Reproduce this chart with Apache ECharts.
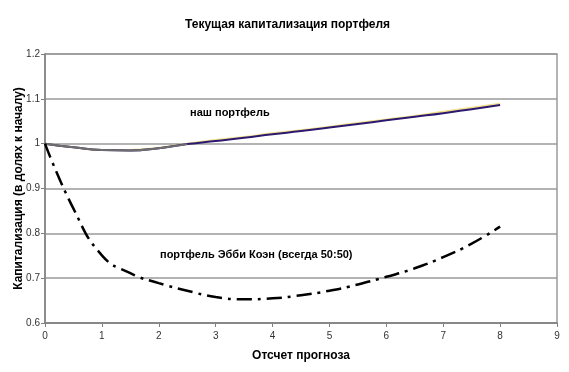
<!DOCTYPE html>
<html>
<head>
<meta charset="utf-8">
<script src="https://cdn.jsdelivr.net/npm/echarts@6/dist/echarts.min.js"></script>
<style>html,body{margin:0;padding:0;background:#fff}#c{width:569px;height:372px}</style>
</head>
<body>
<div id="c"></div>
<script>
var titleText = 'Текущая капитализация портфеля';
var xName = 'Отсчет прогноза';
var yName = 'Капитализация (в долях к началу)';
var ourLabel = 'наш портфель';
var abbyLabel = 'портфель Эбби Коэн (всегда 50:50)';

var xs = [0, 0.5, 1, 1.5, 2, 2.5, 3, 3.5, 4, 4.5, 5, 5.5, 6, 6.5, 7, 7.5, 8];
var ourValues = [1.0, 0.992, 0.986, 0.985, 0.99, 0.999, 1.006, 1.013, 1.021, 1.028, 1.036, 1.044, 1.052, 1.060, 1.068, 1.077, 1.086];
var ourAltValues = [1.0, 0.992, 0.986, 0.986, 0.991, 1.0, 1.008, 1.015, 1.023, 1.030, 1.038, 1.046, 1.054, 1.062, 1.071, 1.080, 1.089];
var abbyValues = [1.0, 0.855, 0.751, 0.711, 0.689, 0.672, 0.658, 0.653, 0.655, 0.662, 0.672, 0.686, 0.703, 0.722, 0.747, 0.777, 0.815];
var grayUntil = 2.5;

function pairs(vals, maxX) {
  var out = [];
  for (var i = 0; i < xs.length; i++) {
    if (maxX === undefined || xs[i] <= maxX) out.push([xs[i], vals[i]]);
  }
  return out;
}

var chart = echarts.init(document.getElementById('c'));
var font = 'Liberation Sans, Arial, sans-serif';
chart.setOption({
  animation: false,
  backgroundColor: '#fff',
  title: {
    text: titleText, left: 180, top: 14,
    textStyle: { fontFamily: font, fontSize: 12, fontWeight: 'bold', color: '#000' }
  },
  grid: { left: 45, right: 12, top: 54, bottom: 49, show: true, borderColor: '#9a9a9a', borderWidth: 1.5,
    containLabel: false, outerBoundsMode: 'none' },
  xAxis: {
    type: 'value', min: 0, max: 9, interval: 1,
    name: xName, nameLocation: 'middle', nameGap: 27, nameMoveOverlap: false,
    nameTextStyle: { fontFamily: font, fontSize: 12, fontWeight: 'bold', color: '#000' },
    axisLine: { lineStyle: { color: '#808080', width: 1.5 } },
    axisTick: { show: true, inside: false, length: 4, lineStyle: { color: '#808080' } },
    axisLabel: { fontFamily: font, fontSize: 10, color: '#333', margin: 8 },
    splitLine: { show: false }
  },
  yAxis: {
    type: 'value', min: 0.6, max: 1.2, interval: 0.1,
    name: yName, nameLocation: 'middle', nameGap: 20, nameMoveOverlap: false,
    nameTextStyle: { fontFamily: font, fontSize: 12, fontWeight: 'bold', color: '#000' },
    axisLine: { show: true, lineStyle: { color: '#808080', width: 1.5 } },
    axisTick: { show: true, length: 4, lineStyle: { color: '#808080' } },
    axisLabel: { fontFamily: font, fontSize: 10, color: '#333', margin: 5,
      formatter: function (v) { return String(Math.round(v * 10) / 10); } },
    splitLine: { show: true, lineStyle: { color: '#9a9a9a', width: 1.5 } }
  },
  series: [
    { type: 'line', data: pairs(ourAltValues), smooth: true, symbol: 'none',
      lineStyle: { color: '#f3df8a', width: 2 }, z: 2 },
    { type: 'line', data: pairs(ourValues), smooth: true, symbol: 'none',
      lineStyle: { color: '#2b1870', width: 2 }, z: 3 },
    { type: 'line', data: pairs(ourValues, grayUntil), smooth: true, symbol: 'none',
      lineStyle: { color: '#6e6e6e', width: 2 }, z: 4 },
    { type: 'line', data: pairs(abbyValues), smooth: true, symbol: 'none',
      lineStyle: { color: '#000', width: 2.5, type: [15, 6, 3, 6] }, z: 5 }
  ],
  graphic: [
    { type: 'text', left: 190, top: 107, style: { text: ourLabel, font: 'bold 11px ' + font, fill: '#000' } },
    { type: 'text', left: 160, top: 249, style: { text: abbyLabel, font: 'bold 11px ' + font, fill: '#000' } }
  ]
});
</script>
</body>
</html>
